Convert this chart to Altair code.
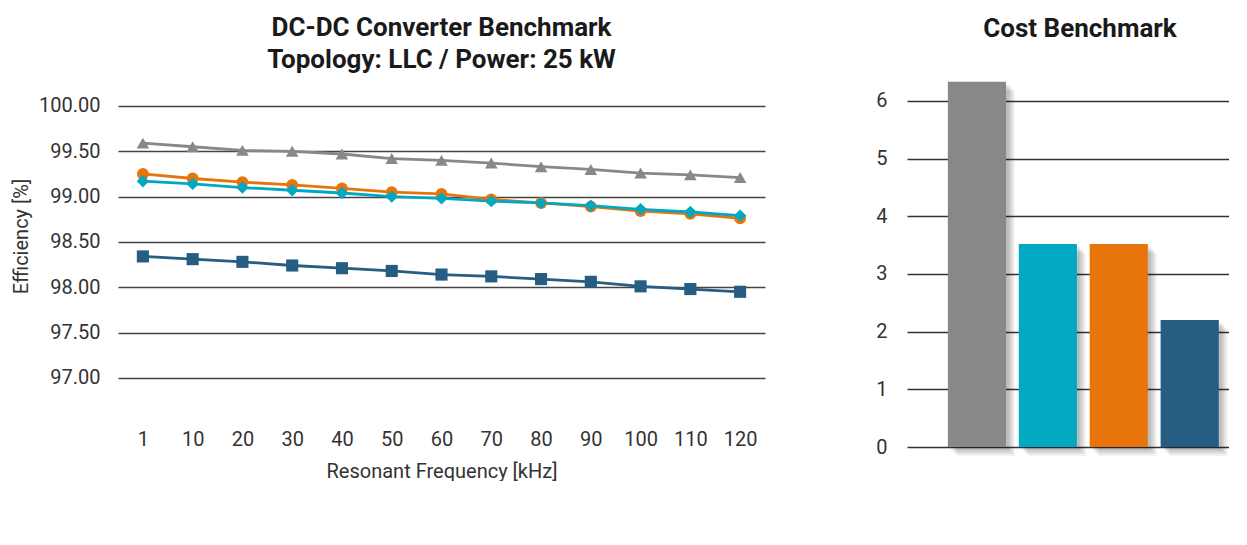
import altair as alt
import pandas as pd

FONT = "Roboto"

freqs = ["1", "10", "20", "30", "40", "50", "60", "70", "80", "90", "100", "110", "120"]
series = ["1200 V SiC-MOSFET", "650 V Si-MOSFET", "2x 650 V Si-MOSFET", "4x 650 V Si-MOSFET"]
colors = ["#E8740C", "#255D83", "#00A9C1", "#87888A"]
shapes = ["circle", "square", "diamond", "triangle-up"]
marker_sizes = [140, 160, 210, 240]

eff_sic = [99.25, 99.20, 99.16, 99.13, 99.09, 99.05, 99.03, 98.97, 98.93, 98.89, 98.84, 98.81, 98.76]
eff_si = [98.34, 98.31, 98.28, 98.24, 98.21, 98.18, 98.14, 98.12, 98.09, 98.06, 98.01, 97.98, 97.95]
eff_2x = [99.17, 99.14, 99.10, 99.07, 99.04, 99.00, 98.98, 98.95, 98.93, 98.90, 98.86, 98.83, 98.79]
eff_4x = [99.59, 99.55, 99.51, 99.50, 99.47, 99.42, 99.40, 99.37, 99.33, 99.30, 99.26, 99.24, 99.21]

bar_order = ["4x 650 V Si-MOSFET", "2x 650 V Si-MOSFET", "1200 V SiC-MOSFET", "650 V Si-MOSFET"]
bar_costs = [6.33, 3.52, 3.52, 2.20]

# long table for the line chart (draw order: navy, orange, teal, gray)
rows = []
for name, vals in [(series[1], eff_si), (series[0], eff_sic), (series[2], eff_2x), (series[3], eff_4x)]:
    for f, v in zip(freqs, vals):
        rows.append({"freq": f, "eff": v, "series": name, "marker": name})
line_df = pd.DataFrame(rows)
bar_df = pd.DataFrame({"series": bar_order, "cost": bar_costs})

# shared legend (from the bar panel, square symbols); x/y relative to the top-level origin
legend = alt.Legend(
    title=None, orient="none", legendX=22, legendY=434, direction="horizontal",
    columns=4, gridAlign="all", columnPadding=55, symbolType="square", symbolSize=196,
    symbolStrokeWidth=0, symbolOpacity=1, labelFontSize=20, labelFont=FONT, labelColor="#333333",
    labelOffset=6, labelLimit=400, padding=0,
)
color_scale = alt.Scale(domain=series, range=colors)
color_nolegend = alt.Color("series:N", scale=color_scale, legend=None)
color_legend = alt.Color("series:N", scale=color_scale, legend=legend)

x_enc = alt.X(
    "freq:O", sort=freqs, title="Resonant Frequency [kHz]",
    axis=alt.Axis(labelAngle=0, domain=False, ticks=False, grid=False, labelPadding=4,
                  labelFontSize=20, labelColor="#333333", titleFontSize=20,
                  titleFontWeight="normal", titleColor="#333333", titlePadding=12),
)
y_enc = alt.Y(
    "eff:Q", title="Efficiency [%]",
    scale=alt.Scale(domain=[96.48, 100.375], nice=False, zero=False),
    axis=alt.Axis(values=[97, 97.5, 98, 98.5, 99, 99.5, 100], format=".2f", domain=False,
                  ticks=False, labelPadding=18, labelFontSize=20, labelColor="#333333",
                  gridColor="#444444", gridWidth=1.5, titleFontSize=20, titleFontWeight="normal",
                  titleColor="#333333", titlePadding=7, titleY=164),
)

lines = alt.Chart(line_df).mark_line(strokeWidth=2.8).encode(x=x_enc, y=y_enc, color=color_nolegend)
points = alt.Chart(line_df).mark_point(filled=True, opacity=1).encode(
    x=x_enc, y=y_enc, color=color_nolegend,
    shape=alt.Shape("marker:N", scale=alt.Scale(domain=series, range=shapes), legend=None),
    size=alt.Size("marker:N", scale=alt.Scale(domain=series, range=marker_sizes), legend=None),
)

left = alt.layer(lines, points).properties(
    width=647, height=353,
    title=alt.TitleParams(["DC-DC Converter Benchmark", "Topology: LLC / Power: 25 kW"],
                          fontSize=26, font=FONT, fontWeight="bold", color="#1a1a1a",
                          lineHeight=32, offset=-1, frame="group", anchor="middle"),
)

bx = alt.X("series:N", sort=bar_order,
           scale=alt.Scale(domain=bar_order, paddingInner=0.18, paddingOuter=0.36, align=0.8),
           axis=None)
by = alt.Y("cost:Q", title=None, scale=alt.Scale(domain=[0, 6.5], nice=False),
           axis=alt.Axis(values=[0, 1, 2, 3, 4, 5, 6], format="d", domain=False, ticks=False,
                         labelPadding=20, labelFontSize=20, labelColor="#333333",
                         gridColor="#333333", gridWidth=1.5))

shadows = []
for off, op in [(3, 0.08), (5, 0.08), (7, 0.07), (9, 0.05)]:
    shadows.append(
        alt.Chart(bar_df).mark_bar(color="#000000", opacity=op, xOffset=off, x2Offset=off,
                                   yOffset=off, y2Offset=off).encode(x=bx, y=by)
    )
bars = alt.Chart(bar_df).mark_bar(opacity=1).encode(x=bx, y=by, color=color_legend)

right = alt.layer(*shadows, bars).properties(
    width=322, height=375,
    title=alt.TitleParams("Cost Benchmark", fontSize=26, font=FONT, fontWeight="bold",
                          color="#1a1a1a", offset=30, dx=12, frame="group", anchor="middle"),
)

chart = (
    alt.hconcat(left, right, spacing=110)
    .properties(padding={"left": 3, "top": 7, "right": 0, "bottom": 0}, background="white")
    .configure_view(stroke=None)
    .configure_axis(labelFont=FONT, titleFont=FONT)
)

chart.save("out.html", embed_options={"renderer": "svg", "actions": False})
